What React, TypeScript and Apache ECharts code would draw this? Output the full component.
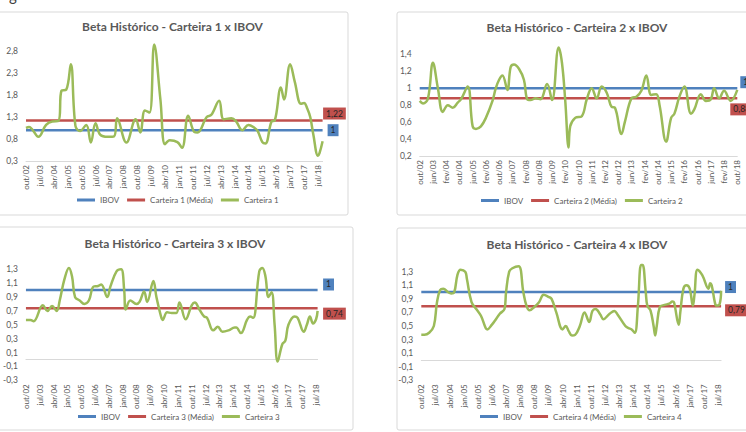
import React, { useEffect, useRef } from "react";
import * as echarts from "echarts";

// ---------- data ----------
const MONTH_NAMES = ["jan", "fev", "mar", "abr", "mai", "jun", "jul", "ago", "set", "out", "nov", "dez"];
const START_MONTH = 9; // out
const START_YEAR = 2002;

const TITLES = [
  "Beta Histórico - Carteira 1 x IBOV",
  "Beta Histórico - Carteira 2 x IBOV",
  "Beta Histórico - Carteira 3 x IBOV",
  "Beta Histórico - Carteira 4 x IBOV",
];
const PORTFOLIO_NAMES = ["Carteira 1", "Carteira 2", "Carteira 3", "Carteira 4"];
const IBOV_BETA = 1;
const MEDIA = [1.22, 0.88, 0.74, 0.79];
const CAT_COUNT = [193, 193, 191, 192];
const LABEL_STEP = [8, 7, 8, 8];

const Y_MIN = [0.3, 0.2, -0.3, -0.3];
const Y_MAX = [3.3, 1.6, 1.5, 1.5];
const Y_TICKS_1 = [0.3, 0.8, 1.3, 1.8, 2.3, 2.8];
const Y_TICKS_2 = [0.2, 0.4, 0.6, 0.8, 1, 1.2, 1.4];
const Y_TICKS_3 = [-0.3, -0.1, 0.1, 0.3, 0.5, 0.7, 0.9, 1.1, 1.3];
const Y_TICKS_4 = [-0.3, -0.1, 0.1, 0.3, 0.5, 0.7, 0.9, 1.1, 1.3];

// [month index from out/02, beta]
const carteira1 = [
  [0, 1.05], [2, 1.07], [4, 1.02], [8, 0.85], [13, 1.12], [17, 1.2], [21, 1.21], [23, 1.9],
  [26, 1.92], [29, 2.5], [32, 1.1], [35, 0.98], [39, 1.12], [42, 0.72], [45, 1.16], [48, 0.9],
  [53, 0.85], [57, 0.86], [59, 1.27], [65, 0.72], [71, 1.25], [74, 0.95], [77, 1.45], [80, 1.4],
  [83, 2.95], [87, 1.7], [90, 0.68], [93, 0.77], [98, 0.73], [101, 0.6], [105, 1.33], [109, 0.96],
  [111, 0.95], [117, 1.3], [120, 1.35], [125, 1.67], [128, 1.25], [133, 1.27], [136, 1.2], [140, 1.0],
  [144, 1.12], [148, 1.05], [150, 0.98], [153, 0.73], [155, 0.7], [159, 1.2], [161, 1.22], [165, 1.97],
  [167, 1.7], [171, 2.5], [174, 2.1], [178, 1.6], [180, 1.62], [182, 1.5], [184, 1.3], [186, 0.9],
  [189, 0.42], [190, 0.48], [192, 0.75],
];
const carteira2 = [
  [0, 0.85], [2, 0.82], [5, 0.88], [8, 1.3], [11, 1.0], [14, 0.72], [17, 0.8], [20, 0.77],
  [23, 0.83], [25, 0.87], [29, 1.02], [32, 0.55], [34, 0.52], [37, 0.55], [40, 0.65], [44, 0.85],
  [46, 1.0], [48, 1.1], [50, 1.15], [53, 0.98], [55, 1.25], [57, 1.28], [60, 1.23], [63, 1.1],
  [65, 0.87], [67, 0.86], [70, 0.88], [73, 0.87], [77, 1.05], [80, 0.86], [84, 1.48], [86, 1.3],
  [88, 0.85], [90, 0.3], [91, 0.55], [94, 0.65], [98, 0.67], [101, 0.87], [104, 1.0], [107, 0.88],
  [110, 1.02], [113, 0.95], [116, 0.78], [118, 0.77], [122, 0.46], [124, 0.6], [128, 0.88], [131, 0.9],
  [134, 0.97], [137, 1.15], [140, 0.92], [143, 0.93], [145, 0.8], [149, 0.37], [152, 0.65], [154, 0.7],
  [157, 0.9], [160, 1.02], [164, 0.7], [166, 0.75], [170, 0.93], [173, 0.85], [176, 0.87], [178, 1.0],
  [181, 0.88], [184, 0.97], [188, 0.85], [192, 0.98],
];
const carteira3 = [
  [0, 0.57], [3, 0.57], [5, 0.55], [11, 0.78], [14, 0.7], [17, 0.77], [20, 0.7], [22, 0.85],
  [25, 1.15], [28, 1.32], [30, 1.2], [32, 0.9], [35, 0.85], [38, 0.8], [41, 0.85], [44, 1.05],
  [47, 1.06], [49, 1.08], [53, 0.9], [55, 1.05], [59, 1.27], [62, 1.3], [64, 1.0], [65, 0.72],
  [68, 0.85], [72, 0.8], [74, 0.83], [77, 0.98], [79, 0.83], [83, 1.13], [85, 0.9], [88, 0.62],
  [89, 0.57], [92, 0.68], [95, 0.67], [98, 0.67], [100, 0.82], [104, 0.58], [108, 0.78], [110, 0.82],
  [113, 0.72], [116, 0.62], [118, 0.6], [122, 0.42], [125, 0.47], [128, 0.4], [132, 0.42], [136, 0.46],
  [137, 0.46], [140, 0.38], [144, 0.57], [146, 0.62], [148, 0.6], [152, 1.27], [154, 1.32], [156, 1.2],
  [158, 0.9], [160, 0.97], [162, 0.5], [164, -0.03], [167, 0.22], [169, 0.27], [171, 0.5], [175, 0.62],
  [177, 0.6], [181, 0.4], [183, 0.5], [185, 0.62], [187, 0.52], [189, 0.58], [190, 0.7],
];
const carteira4 = [
  [0, 0.37], [2, 0.37], [5, 0.4], [8, 0.5], [10, 0.85], [12, 1.03], [14, 1.05], [17, 1.0],
  [19, 0.98], [21, 1.0], [23, 1.25], [25, 1.33], [28, 1.3], [29, 1.2], [32, 0.85], [35, 0.75],
  [38, 0.65], [41, 0.47], [42, 0.45], [45, 0.52], [47, 0.58], [50, 0.68], [53, 0.75], [54, 1.0],
  [56, 1.3], [58, 1.35], [62, 1.38], [65, 1.0], [67, 0.8], [69, 0.73], [72, 0.78], [75, 0.85],
  [78, 0.96], [81, 0.93], [83, 0.9], [86, 0.7], [90, 0.45], [92, 0.5], [94, 0.42], [96, 0.36],
  [98, 0.37], [101, 0.5], [104, 0.7], [107, 0.56], [109, 0.72], [111, 0.75], [114, 0.67], [116, 0.6],
  [120, 0.68], [123, 0.72], [125, 0.67], [130, 0.5], [132, 0.47], [134, 0.45], [136, 0.4], [138, 0.8],
  [140, 1.4], [141, 1.4], [143, 1.0], [144, 0.8], [146, 0.73], [148, 0.5], [149, 0.36], [150, 0.5],
  [152, 0.78], [155, 0.81], [158, 0.83], [160, 0.86], [161, 0.85], [164, 0.52], [165, 0.7], [167, 1.05],
  [169, 1.1], [171, 1.05], [173, 0.8], [174, 0.95], [176, 1.33], [179, 1.25], [183, 1.05], [184, 1.13],
  [185, 1.1], [187, 0.85], [188, 0.8], [190, 0.82], [191, 1.02],
];

const PORTFOLIOS = [carteira1, carteira2, carteira3, carteira4];
const Y_TICKS = [Y_TICKS_1, Y_TICKS_2, Y_TICKS_3, Y_TICKS_4];

// ---------- layout / style ----------
const BLUE = "#4F81BD";
const RED = "#C0504D";
const GREEN = "#9BBB59";
const TXT = "#595959";
const FONT = "Lato, 'Open Sans', sans-serif";

const GRIDS = [
  { left: 26, right: 423.4, top: 29, bottom: 271 },
  { left: 419.7, right: 8.7, top: 37.35, bottom: 276 },
  { left: 19, right: 428.4, top: 255.4, bottom: 51.7 },
  { left: 421.3, right: 24.9, top: 258.1, bottom: 51.7 },
];
const TITLE_POS = [
  { x: 172.5, y: 20 },
  { x: 577, y: 21 },
  { x: 175, y: 237 },
  { x: 577, y: 238 },
];
const LEGEND_POS = [
  { left: 77, top: 196 },
  { left: 481, top: 196.5 },
  { left: 78, top: 412.5 },
  { left: 480, top: 412.5 },
];
const IBOV_LABEL_OFFSET = [
  [5, 0],
  [3, -6],
  [5.5, -5.6],
  [4, -5],
];
const MEDIA_LABEL_OFFSET = [
  [0.5, -7],
  [-7, 11],
  [5.5, 5.5],
  [4, 4],
];
const PANELS = [
  { x: -10, y: 12, width: 358, height: 203 },
  { x: 397, y: 12, width: 360, height: 203 },
  { x: -10, y: 227, width: 363, height: 203 },
  { x: 397, y: 228, width: 360, height: 202 },
];

function monthLabels(n: number): string[] {
  const out: string[] = [];
  for (let i = 0; i < n; i++) {
    const m = (START_MONTH + i) % 12;
    const y = START_YEAR + Math.floor((START_MONTH + i) / 12);
    out.push(MONTH_NAMES[m] + "/" + String(y % 100).padStart(2, "0"));
  }
  return out;
}

const fmt = (v: number) => String(Number(v.toFixed(2))).replace(".", ",");

function buildOption() {
  const grid: any[] = [];
  const xAxis: any[] = [];
  const yAxis: any[] = [];
  const series: any[] = [];
  const title: any[] = [];
  const legend: any[] = [];

  for (let k = 0; k < 4; k++) {
    const n = CAT_COUNT[k];
    const last = n - 1;
    grid.push({ ...GRIDS[k], containLabel: false });
    xAxis.push({
      type: "category",
      gridIndex: k,
      data: monthLabels(n),
      boundaryGap: false,
      axisLine: { show: true, onZero: true, lineStyle: { color: "#D9D9D9", width: 1 } },
      axisTick: { show: false },
      axisLabel: {
        interval: LABEL_STEP[k],
        rotate: 90,
        fontSize: 8,
        color: TXT,
        fontFamily: FONT,
        margin: 4,
      },
      splitLine: { show: false },
    });
    yAxis.push({
      type: "value",
      gridIndex: k,
      min: Y_MIN[k],
      max: Y_MAX[k],
      axisLine: { show: false },
      axisTick: { show: false },
      splitLine: { show: false },
      axisLabel: {
        customValues: Y_TICKS[k],
        fontSize: 8.5,
        color: TXT,
        fontFamily: FONT,
        margin: 8,
        formatter: (v: number) => String(Number(v.toFixed(1))).replace(".", ","),
      },
    });
    const lbl = (bg: string, off: number[]) => ({
      show: true,
      formatter: (p: any) => fmt(p.value[1]),
      backgroundColor: bg,
      color: "#262626",
      fontSize: 8.5,
      fontFamily: FONT,
      padding: [2, 3, 1, 3],
      distance: 0,
      offset: off,
    });
    series.push({
      type: "line",
      name: "IBOV",
      xAxisIndex: k,
      yAxisIndex: k,
      data: [[0, IBOV_BETA], [last, IBOV_BETA]],
      symbol: "none",
      lineStyle: { color: BLUE, width: 2.5 },
      itemStyle: { color: BLUE },
      endLabel: lbl(BLUE, IBOV_LABEL_OFFSET[k]),
      z: 2,
    });
    series.push({
      type: "line",
      name: PORTFOLIO_NAMES[k] + " (Média)",
      xAxisIndex: k,
      yAxisIndex: k,
      data: [[0, MEDIA[k]], [last, MEDIA[k]]],
      symbol: "none",
      lineStyle: { color: RED, width: 2.5 },
      itemStyle: { color: RED },
      endLabel: lbl(RED, MEDIA_LABEL_OFFSET[k]),
      z: 3,
    });
    series.push({
      type: "line",
      name: PORTFOLIO_NAMES[k],
      xAxisIndex: k,
      yAxisIndex: k,
      data: PORTFOLIOS[k],
      symbol: "none",
      smooth: 0.4,
      lineStyle: { color: GREEN, width: 2.5 },
      itemStyle: { color: GREEN },
      z: 4,
    });
    title.push({
      text: TITLES[k],
      left: TITLE_POS[k].x,
      top: TITLE_POS[k].y,
      textAlign: "center",
      padding: 0,
      textStyle: { fontSize: 12, fontWeight: "bold", color: TXT, fontFamily: FONT },
    });
    legend.push({
      left: LEGEND_POS[k].left,
      top: LEGEND_POS[k].top,
      padding: 0,
      itemGap: 8,
      itemWidth: 18,
      itemHeight: 3,
      icon: "rect",
      data: ["IBOV", PORTFOLIO_NAMES[k] + " (Média)", PORTFOLIO_NAMES[k]],
      textStyle: { fontSize: 8, color: TXT, fontFamily: FONT },
      selectedMode: false,
    });
  }

  const graphic: any[] = PANELS.map((p) => ({
    type: "rect",
    shape: { ...p, r: 2 },
    style: { fill: "#ffffff", stroke: "#D9D9D9", lineWidth: 1 },
    z: -10,
    silent: true,
  }));
  graphic.push({
    type: "text",
    x: 9,
    y: -13,
    style: { text: "g", fontSize: 15, fill: "#404040", fontFamily: FONT },
    silent: true,
  });

  return {
    animation: false,
    backgroundColor: "#ffffff",
    grid,
    xAxis,
    yAxis,
    series,
    title,
    legend,
    graphic,
  };
}

export default function App() {
  const ref = useRef<HTMLDivElement>(null);
  useEffect(() => {
    if (!ref.current) return;
    const chart = echarts.init(ref.current, undefined, { renderer: "svg" });
    chart.setOption(buildOption() as any);
    return () => chart.dispose();
  }, []);
  return (
    <div
      ref={ref}
      style={{ position: "fixed", left: 0, top: 0, width: 746, height: 432, background: "#fff" }}
    />
  );
}
